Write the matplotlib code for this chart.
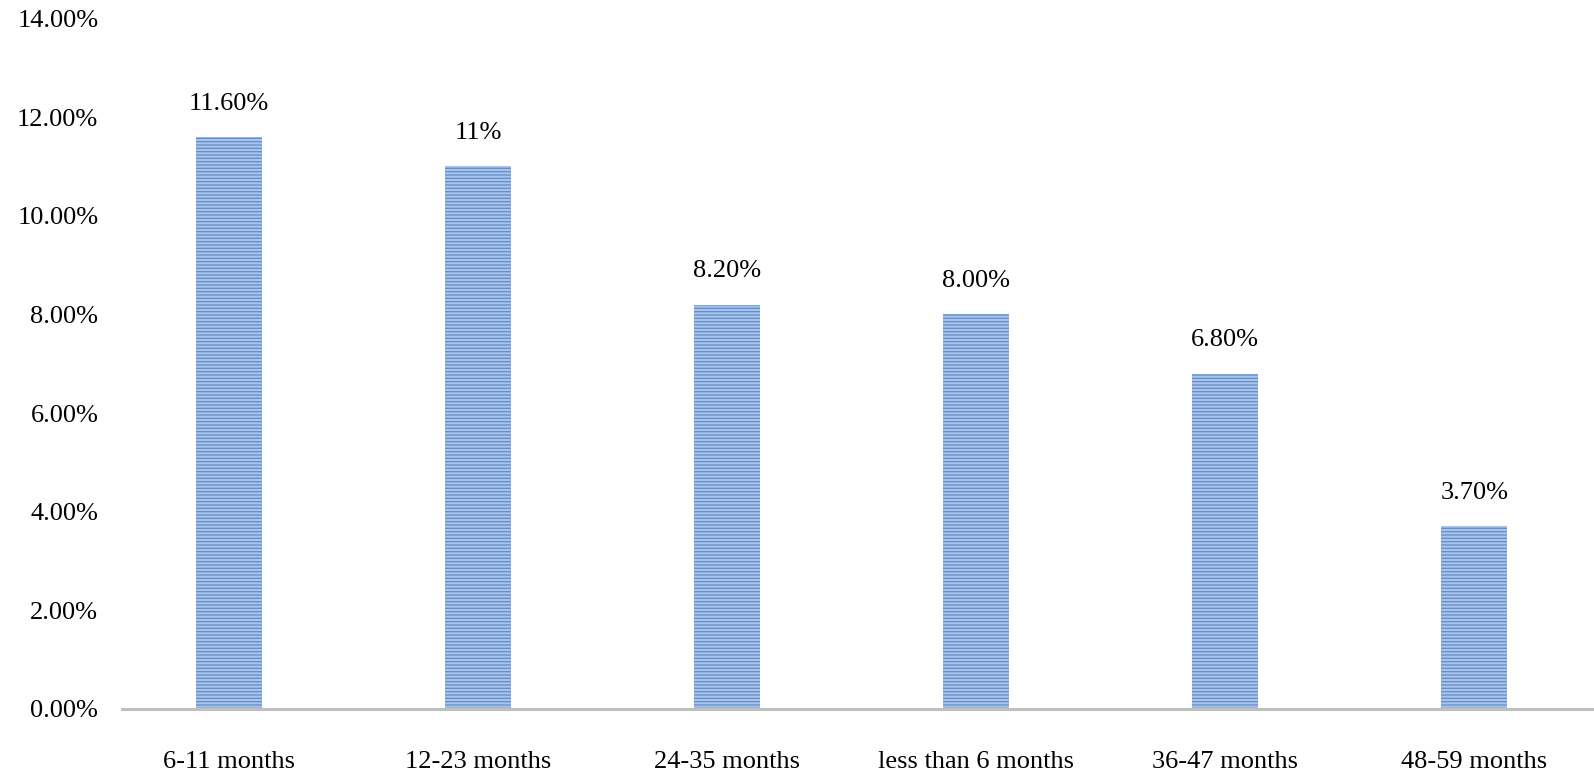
import matplotlib.pyplot as plt
from matplotlib.ticker import FuncFormatter

plt.rcParams['font.family'] = ['Liberation Serif', 'DejaVu Serif']
plt.rcParams['hatch.linewidth'] = 0.9
plt.rcParams['hatch.color'] = '#5f8dcf'

categories = ['6-11 months', '12-23 months', '24-35 months',
              'less than 6 months', '36-47 months', '48-59 months']
values = [11.6, 11.0, 8.2, 8.0, 6.8, 3.7]
labels = ['11.60%', '11%', '8.20%', '8.00%', '6.80%', '3.70%']

fig = plt.figure(figsize=(15.94, 7.73), dpi=100)
ax = fig.add_axes([0.0765, 0.083, 0.9235, 0.893])

x = range(len(categories))
bars = ax.bar(x, values, width=0.265, color='#abc3e7', hatch='-----',
              edgecolor='#5f8dcf', linewidth=0)

for b, lab in zip(bars, labels):
    ax.text(b.get_x() + b.get_width() / 2, b.get_height() + 0.45, lab,
            ha='center', va='bottom', fontsize=19)

ax.set_ylim(0, 14)
ax.set_xlim(-0.43, 5.48)
ax.set_yticks(range(0, 15, 2))
ax.yaxis.set_major_formatter(FuncFormatter(lambda v, p: '%.2f%%' % v))
ax.set_xticks(list(x))
ax.set_xticklabels(categories)
ax.tick_params(axis='y', length=0, pad=17, labelsize=19)
ax.tick_params(axis='x', length=0, pad=30, labelsize=19)

for s in ['top', 'right', 'left']:
    ax.spines[s].set_visible(False)
ax.spines['bottom'].set_color('#bfbfbf')
ax.spines['bottom'].set_linewidth(2.2)

fig.savefig('out.png', dpi=100)
